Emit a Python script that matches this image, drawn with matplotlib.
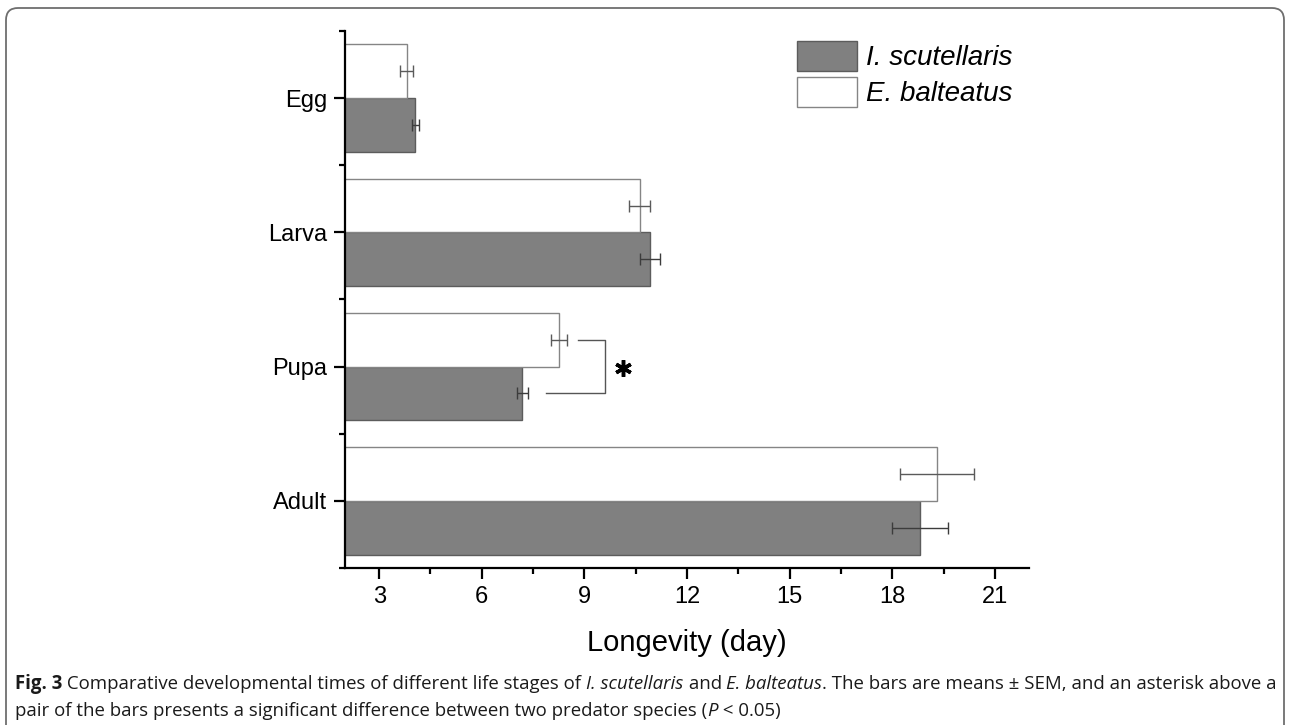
import numpy as np
import matplotlib
matplotlib.use('Agg')
import matplotlib.pyplot as plt
from matplotlib.patches import FancyBboxPatch
from matplotlib.transforms import IdentityTransform
from matplotlib.ticker import MultipleLocator, FixedLocator

# data (days, mean and SEM)
stages = ['Egg', 'Larva', 'Pupa', 'Adult']
iscut_mean = [4.06, 10.92, 7.19, 18.80]
iscut_sem = [0.11, 0.30, 0.16, 0.82]
ebalt_mean = [3.80, 10.62, 8.25, 19.30]
ebalt_sem = [0.20, 0.31, 0.24, 1.08]
sig_stage = 'Pupa'

plt.rcParams['font.family'] = ['Liberation Sans', 'DejaVu Sans']

fig = plt.figure(figsize=(12.9, 7.25), dpi=100)
ax = fig.add_axes([0.2674, 0.2166, 0.5303, 0.7406])

ypos = np.arange(len(stages))[::-1]
h = 0.4
grey = '#808080'

ax.barh(ypos - h/2, iscut_mean, height=h, color=grey, edgecolor='#5c5c5c',
        linewidth=1.0, label='I. scutellaris', zorder=2)
ax.barh(ypos + h/2, ebalt_mean, height=h, color='white', edgecolor='#858585',
        linewidth=1.0, label='E. balteatus', zorder=2)
ax.errorbar(iscut_mean, ypos - h/2, xerr=iscut_sem, fmt='none', ecolor='#3c3c3c',
            elinewidth=1.0, capsize=4, capthick=1.0, zorder=3)
ax.errorbar(ebalt_mean, ypos + h/2, xerr=ebalt_sem, fmt='none', ecolor='#5a5a5a',
            elinewidth=1.0, capsize=4, capthick=1.0, zorder=3)

# significance bracket for the pupa stage
k = stages.index(sig_stage)
yk = ypos[k]
x_right = max(iscut_mean[k] + iscut_sem[k], ebalt_mean[k] + ebalt_sem[k]) + 1.12
ax.plot([ebalt_mean[k] + ebalt_sem[k] + 0.32, x_right, x_right,
         iscut_mean[k] + iscut_sem[k] + 0.53],
        [yk + h/2, yk + h/2, yk - h/2, yk - h/2], color='#555555', lw=1.0)
ax.plot(x_right + 0.53, yk - 0.01, marker=(6, 2, 0), ms=12, mew=2.5, color='black')

ax.set_xlim(2, 22)
ax.set_ylim(-0.5, 3.5)
ax.xaxis.set_major_locator(MultipleLocator(3))
ax.xaxis.set_minor_locator(MultipleLocator(1.5))
ax.set_yticks(ypos)
ax.set_yticklabels(stages)
ax.yaxis.set_minor_locator(FixedLocator(np.arange(-0.5, 4, 1.0)))

for s in ['top', 'right']:
    ax.spines[s].set_visible(False)
for s in ['left', 'bottom']:
    ax.spines[s].set_linewidth(1.6)
ax.tick_params(which='major', length=8, width=1.6, labelsize=17, pad=5, direction='out')
ax.tick_params(which='minor', length=4, width=1.6, direction='out')
ax.set_xlabel('Longevity (day)', fontsize=21, labelpad=15)

leg = fig.legend(loc='upper left', bbox_to_anchor=(797/1290, 1 - 41/725),
                 frameon=False, borderpad=0, borderaxespad=0,
                 handlelength=2.16, handleheight=1.28, handletextpad=0.33,
                 labelspacing=0.2, prop={'style': 'italic', 'size': 20})

# outer frame
frame = FancyBboxPatch((6, -30), 1278, 747, boxstyle='round,pad=0,rounding_size=12',
                       transform=IdentityTransform(), facecolor='none',
                       edgecolor='#6e6e6e', linewidth=1.3)
fig.patches.append(frame)

# caption, built from pieces so italic words sit inline
cap_font = ['Open Sans', 'DejaVu Sans']
cap_size = 13.4
line1 = [('Fig. 3', 'bold', 'normal'),
         (' Comparative developmental times of different life stages of ', 'normal', 'normal'),
         ('I. scutellaris', 'normal', 'italic'),
         (' and ', 'normal', 'normal'),
         ('E. balteatus', 'normal', 'italic'),
         ('. The bars are means ± SEM, and an asterisk above a', 'normal', 'normal')]
line2 = [('pair of the bars presents a significant difference between two predator species (', 'normal', 'normal'),
         ('P', 'normal', 'italic'),
         (' < 0.05)', 'normal', 'normal')]

fig.canvas.draw()
renderer = fig.canvas.get_renderer()


def put_line(pieces, x0, y0):
    x = x0
    for txt, wt, st in pieces:
        t = fig.text(x, y0, txt, transform=IdentityTransform(), family=cap_font,
                     size=cap_size, weight=wt, style=st, va='baseline', ha='left',
                     color='#1a1a1a')
        bb = t.get_window_extent(renderer)
        x = bb.x1


put_line(line1, 15, 725 - 689)
put_line(line2, 15, 725 - 716)

fig.savefig('out.png', dpi=100)
